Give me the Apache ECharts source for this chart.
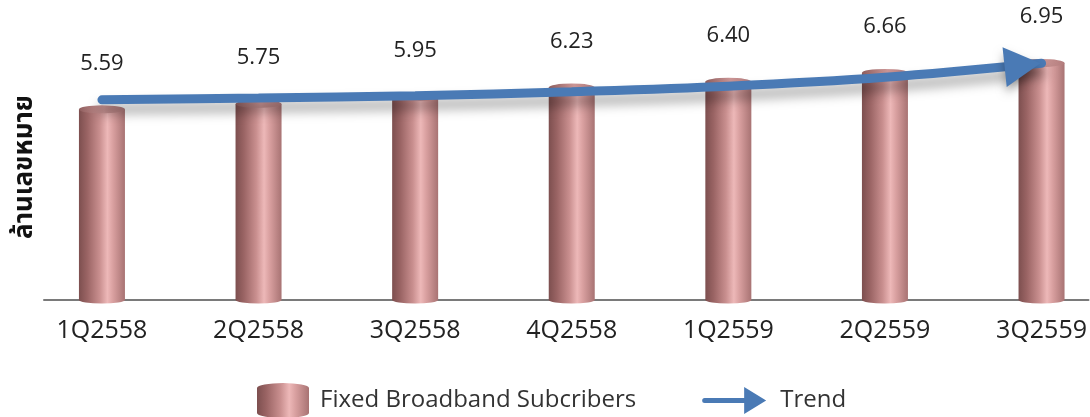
<!DOCTYPE html>
<html>
<head>
<meta charset="utf-8">
<script src="https://cdn.jsdelivr.net/npm/echarts@6/dist/echarts.min.js"></script>
<style>
  html, body { margin: 0; padding: 0; background: #ffffff; }
  #chart { width: 1090px; height: 417px; }
</style>
</head>
<body>
<div id="chart"></div>
<script>
// Quarterly fixed broadband subscribers (million numbers)
const categories = ['1Q2558', '2Q2558', '3Q2558', '4Q2558', '1Q2559', '2Q2559', '3Q2559'];
const subscribers = [5.59, 5.75, 5.95, 6.23, 6.40, 6.66, 6.95];
// Trend arrow drawn across the tops of the cylinders
const trendValues = [5.87, 5.92, 5.99, 6.11, 6.27, 6.53, 6.94];
const barSeriesName = 'Fixed Broadband Subcribers';
const trendSeriesName = 'Trend';
const yAxisTitle = 'ล้านเลขหมาย';

const FONT = "'Open Sans', 'Noto Sans', sans-serif";
const THAI_FONT = "'Noto Sans Thai', 'Noto Sans Thai UI', 'Loma', 'Garuda', 'Norasi', 'DejaVu Sans', sans-serif";

const bodyGradient = new echarts.graphic.LinearGradient(0, 0, 1, 0, [
  { offset: 0.00, color: '#7d4f4f' },
  { offset: 0.18, color: '#9a6464' },
  { offset: 0.45, color: '#c98f8f' },
  { offset: 0.62, color: '#edb8b8' },
  { offset: 0.74, color: '#d9a0a0' },
  { offset: 1.00, color: '#a87373' }
]);
const topGradient = new echarts.graphic.LinearGradient(0, 0, 1, 0, [
  { offset: 0.00, color: '#905f5f' },
  { offset: 0.55, color: '#cc9696' },
  { offset: 1.00, color: '#b27c7c' }
]);

const barData = subscribers.map((v, i) => [i, v]);
const topData = subscribers.map((v, i) => [i, v]);
const baseData = subscribers.map((v, i) => [i, 0]);
const trendData = trendValues.map((v, i) => {
  const last = i === trendValues.length - 1;
  return {
    value: [i, v],
    symbol: last ? 'triangle' : 'none',
    symbolSize: last ? [40, 36] : 0,
    symbolRotate: last ? -84 : 0,
    symbolOffset: last ? [-19, 1.9] : [0, 0]
  };
});

const chart = echarts.init(document.getElementById('chart'), null, { renderer: 'canvas' });

chart.setOption({
  animation: false,
  backgroundColor: '#ffffff',
  grid: { left: 44, right: 0, top: 34, bottom: 117, containLabel: false },
  legend: {
    left: 252,
    top: 378,
    itemWidth: 64,
    itemHeight: 35,
    itemGap: 66,
    symbolKeepAspect: true,
    textStyle: { fontFamily: FONT, fontSize: 24, color: '#333333' },
    data: [
      {
        name: barSeriesName,
        icon: 'path://M0,5 A26,5 0 0 1 52,5 L52,30 A26,5 0 0 1 0,30 Z'
      },
      {
        name: trendSeriesName,
        icon: 'path://M2.5,11 L42,11 L42,0 L64,13.5 L42,27 L42,16 L2.5,16 A2.5,2.5 0 0 1 2.5,11 Z',
        itemStyle: { color: '#4a7ab5', borderWidth: 0, shadowBlur: 0 },
        textStyle: { padding: [0, 0, 0, 9] }
      }
    ]
  },
  xAxis: {
    type: 'value',
    min: -0.37,
    max: 6.3,
    splitLine: { show: false },
    axisLine: { show: true, onZero: false, lineStyle: { color: '#7a7a7a', width: 2 } },
    axisTick: { show: false },
    axisLabel: {
      show: true,
      customValues: categories.map((c, i) => i),
      formatter: (v) => categories[Math.round(v)] || '',
      margin: 18,
      fontFamily: FONT,
      fontSize: 25,
      color: '#222222'
    }
  },
  yAxis: {
    type: 'value',
    min: 0,
    max: 7.8,
    name: yAxisTitle,
    nameLocation: 'middle',
    nameRotate: 90,
    nameGap: 4,
    nameTextStyle: { fontFamily: THAI_FONT, fontSize: 26, fontWeight: 'bold', color: '#111111' },
    axisLine: { show: false },
    axisTick: { show: false },
    axisLabel: { show: false },
    splitLine: { show: false }
  },
  series: [
    {
      name: barSeriesName,
      type: 'bar',
      data: barData,
      barWidth: 46,
      z: 2,
      itemStyle: { color: bodyGradient },
      label: {
        show: true,
        position: 'top',
        distance: 35,
        fontFamily: FONT,
        fontSize: 22,
        color: '#222222',
        formatter: (p) => p.value[1].toFixed(2)
      }
    },
    {
      // bottom rim of each cylinder
      name: 'base',
      type: 'scatter',
      data: baseData,
      symbol: 'circle',
      symbolSize: [46, 7],
      z: 1,
      silent: true,
      itemStyle: { color: bodyGradient, opacity: 1 }
    },
    {
      // top cap of each cylinder
      name: 'cap',
      type: 'scatter',
      data: topData,
      symbol: 'circle',
      symbolSize: [46, 8],
      z: 3,
      silent: true,
      itemStyle: { color: topGradient, opacity: 1 }
    },
    {
      name: trendSeriesName,
      type: 'line',
      data: trendData,
      smooth: 0.35,
      z: 5,
      showSymbol: true,
      lineStyle: {
        color: '#4a7ab5',
        width: 9,
        cap: 'round',
        shadowColor: 'rgba(0,0,0,0.35)',
        shadowBlur: 12,
        shadowOffsetY: 9
      },
      itemStyle: {
        color: '#4a7ab5',
        shadowColor: 'rgba(0,0,0,0.3)',
        shadowBlur: 10,
        shadowOffsetY: 6
      }
    }
  ]
});
</script>
</body>
</html>
